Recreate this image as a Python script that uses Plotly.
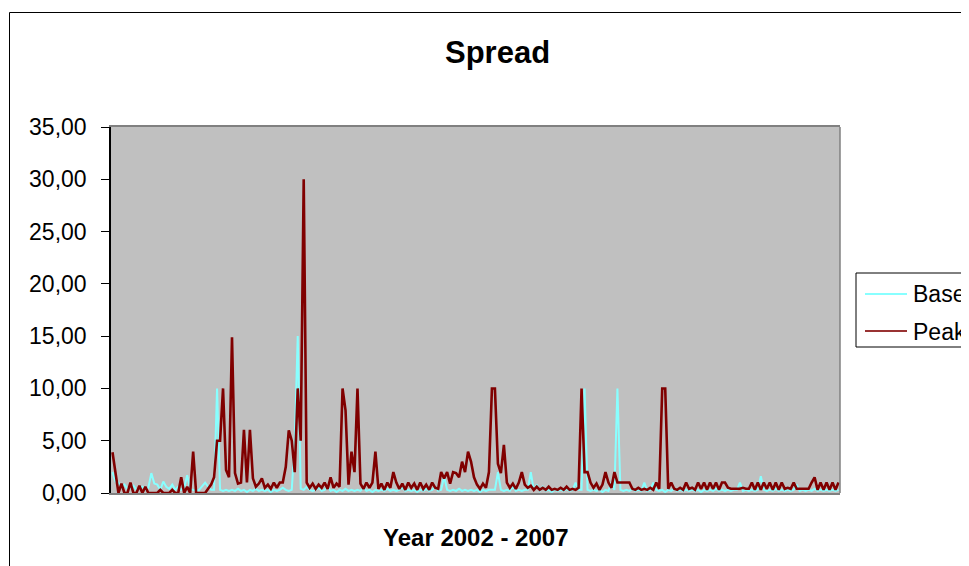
import plotly.graph_objects as go

# ---- data (one value every ~3 px, 2002-2007) ----
peak = [
    3.9, 2.0, 0.0, 0.9, 0.0, 0.0, 1.0, 0.0, 0.0, 0.7,
    0.0, 0.6, 0.0, 0.0, 0.0, 0.0, 0.3, 0.0, 0.0, 0.0,
    0.3, 0.0, 0.0, 1.5, 0.0, 0.6, 0.0, 3.95, 0.0, 0.0,
    0.0, 0.0, 0.4, 0.8, 1.5, 5.0, 5.0, 10.0, 2.2, 1.5,
    14.9, 1.9, 0.9, 1.0, 6.05, 1.0, 6.05, 1.4, 0.6, 0.9,
    1.4, 0.5, 0.8, 0.4, 1.0, 0.5, 1.0, 1.0, 2.5, 6.0,
    5.0, 2.0, 10.0, 5.0, 30.0, 1.0, 0.5, 0.9, 0.4, 0.8,
    0.5, 1.0, 0.4, 1.5, 0.5, 0.9, 0.6, 10.0, 7.9, 0.8,
    3.95, 2.0, 10.0, 0.9, 0.4, 1.0, 0.5, 1.0, 3.95, 0.4,
    0.9, 0.3, 1.0, 0.5, 2.0, 1.0, 0.4, 0.9, 0.3, 1.0,
    0.5, 0.9, 0.3, 1.0, 0.4, 0.8, 0.3, 1.0, 0.5, 0.4,
    2.0, 1.4, 2.0, 0.9, 2.0, 1.9, 1.5, 3.0, 2.0, 3.95,
    3.0, 1.5, 0.8, 0.4, 0.9, 0.5, 2.0, 10.0, 10.0, 2.8,
    1.9, 4.6, 1.0, 0.5, 0.9, 0.4, 1.0, 2.0, 0.8, 0.5,
    0.7, 0.3, 0.6, 0.3, 0.5, 0.3, 0.6, 0.3, 0.4, 0.3,
    0.5, 0.3, 0.6, 0.3, 0.4, 0.3, 0.5, 10.0, 2.0, 2.0,
    1.0, 0.5, 0.9, 0.3, 0.8, 2.0, 1.0, 0.5, 2.0, 1.0,
    1.0, 1.0, 1.0, 1.0, 0.4, 0.3, 0.5, 0.3, 0.4, 0.3,
    0.5, 0.3, 1.0, 0.4, 10.0, 10.0, 0.4, 1.0, 0.4, 0.3,
    0.5, 0.3, 1.0, 0.4, 0.5, 0.3, 1.0, 0.4, 1.0, 0.3,
    1.0, 0.4, 1.0, 0.3, 1.0, 1.0, 0.5, 0.4, 0.4, 0.4,
    0.4, 0.5, 0.4, 0.4, 1.0, 0.3, 1.0, 0.3, 1.0, 0.4,
    1.0, 0.3, 1.0, 0.3, 1.0, 0.4, 0.5, 0.4, 1.0, 0.4,
    0.4, 0.4, 0.4, 0.4, 1.0, 1.5, 0.3, 1.0, 0.3, 1.0,
    0.3, 1.0, 0.3, 1.0,
]

base = [
    2.0, 1.1, 1.0, 0.5, 0.8, 0.4, 0.5, 0.7, 0.3, 0.5,
    0.6, 0.3, 0.5, 1.9, 0.9, 0.8, 0.3, 1.1, 0.6, 0.4,
    0.8, 0.3, 0.6, 0.3, 0.5, 1.7, 0.4, 0.3, 0.2, 0.3,
    0.6, 1.0, 0.6, 0.3, 0.3, 10.0, 0.3, 0.2, 0.3, 0.2,
    0.3, 0.2, 0.4, 0.2, 0.3, 0.1, 0.3, 0.2, 0.4, 0.2,
    0.3, 0.2, 0.3, 0.1, 0.3, 0.2, 0.3, 0.5, 0.3, 0.2,
    0.3, 5.0, 15.0, 0.4, 0.3, 0.6, 0.3, 0.2, 0.3, 0.5,
    0.2, 0.3, 0.6, 0.2, 0.3, 0.1, 0.3, 0.2, 0.4, 0.2,
    0.3, 0.2, 0.3, 0.2, 0.5, 0.2, 0.3, 0.1, 0.3, 0.2,
    0.3, 0.2, 0.4, 0.2, 0.3, 0.2, 0.3, 0.5, 0.2, 0.3,
    0.2, 0.3, 0.1, 0.3, 0.2, 0.4, 0.2, 0.3, 0.6, 0.2,
    0.3, 1.6, 0.3, 0.2, 0.3, 0.2, 0.4, 0.2, 0.3, 0.2,
    0.3, 0.2, 0.3, 0.1, 0.3, 0.2, 0.3, 0.3, 0.3, 2.0,
    0.3, 0.2, 0.3, 0.2, 0.6, 0.2, 0.3, 0.2, 0.3, 0.3,
    2.0, 0.3, 0.8, 0.2, 0.6, 0.2, 0.3, 0.1, 0.3, 0.2,
    0.3, 0.2, 0.4, 0.2, 0.3, 1.0, 0.3, 0.3, 10.0, 0.3,
    0.2, 0.3, 0.2, 0.3, 0.1, 0.3, 0.2, 1.0, 0.3, 10.0,
    0.3, 0.2, 0.3, 0.2, 0.4, 0.2, 0.3, 0.2, 1.0, 0.2,
    0.3, 1.0, 0.3, 0.2, 0.3, 0.1, 0.3, 0.2, 0.4, 0.2,
    0.3, 0.2, 0.3, 0.2, 0.3, 0.2, 0.3, 0.1, 0.3, 0.2,
    0.3, 0.2, 0.4, 0.2, 0.3, 0.2, 0.3, 0.2, 0.3, 0.3,
    1.0, 0.2, 0.3, 0.2, 0.3, 0.2, 0.3, 1.6, 0.3, 0.2,
    0.3, 0.2, 0.4, 0.2, 0.3, 0.2, 0.3, 0.2, 0.3, 0.8,
    0.2, 0.3, 0.2, 0.3, 0.2, 0.4, 0.2, 0.3, 0.2, 0.3,
    0.2, 0.3, 0.2, 0.3,
]

series_names = ["Base", "Peak"]
series_colors = ["#88FFFF", "#800000"]
title_text = "Spread"
x_title = "Year 2002 - 2007"
y_ticks = [0, 5, 10, 15, 20, 25, 30, 35]

x = list(range(len(peak)))

# ---- geometry ----
# The page body has an 8 px margin, so the figure is drawn 8 px smaller
# and all reference (window) pixel positions are shifted by 8 px.
OFF = 8
W, H = 969 - OFF, 566 - OFF
# plot area in window pixels (from the reference)
L, R, T, B = 111, 840, 127, 493
pw, ph = R - L, B - T


def px(xp):
    return (xp - L) / pw


def py(yp):
    return (B - yp) / ph


FONT = "Liberation Sans, Arial, sans-serif"

fig = go.Figure()
fig.add_trace(go.Scatter(x=x, y=base, mode="lines", name=series_names[0],
                         line=dict(color=series_colors[0], width=2),
                         showlegend=False))
fig.add_trace(go.Scatter(x=x, y=peak, mode="lines", name=series_names[1],
                         line=dict(color=series_colors[1], width=2.6),
                         showlegend=False))

shapes = [
    # outer chart frame (extends beyond the window on the right / bottom)
    dict(type="rect", xref="paper", yref="paper",
         x0=px(9.5), x1=px(1100), y0=py(700), y1=py(12.5),
         line=dict(color="black", width=1), layer="above"),
    # right border of plot area
    dict(type="line", xref="paper", yref="paper", x0=1, x1=1, y0=0, y1=1,
         line=dict(color="#808080", width=1.5), layer="above"),
    # legend box
    dict(type="rect", xref="paper", yref="paper",
         x0=px(856), x1=px(1100), y0=py(347), y1=py(273),
         line=dict(color="black", width=1), fillcolor="white", layer="above"),
    dict(type="line", xref="paper", yref="paper",
         x0=px(865), x1=px(907), y0=py(294), y1=py(294),
         line=dict(color=series_colors[0], width=2), layer="above"),
    dict(type="line", xref="paper", yref="paper",
         x0=px(865), x1=px(907), y0=py(331), y1=py(331),
         line=dict(color="#993333", width=2), layer="above"),
]

annotations = [
    dict(text="<b>%s</b>" % title_text, xref="paper", yref="paper",
         x=px(497.5), y=py(52), xanchor="center", yanchor="middle",
         showarrow=False, font=dict(family=FONT, size=31, color="black")),
    dict(text="<b>%s</b>" % x_title, xref="paper", yref="paper",
         x=px(476.5), y=py(537), xanchor="center", yanchor="middle",
         showarrow=False, font=dict(family=FONT, size=24, color="black")),
    dict(text=series_names[0], xref="paper", yref="paper",
         x=px(911), y=py(294), xanchor="left", yanchor="middle",
         showarrow=False, font=dict(family=FONT, size=23, color="black")),
    dict(text=series_names[1], xref="paper", yref="paper",
         x=px(911), y=py(332), xanchor="left", yanchor="middle",
         showarrow=False, font=dict(family=FONT, size=23, color="black")),
]

fig.update_layout(
    width=W, height=H,
    margin=dict(l=L - OFF, r=W - (R - OFF), t=T - OFF, b=H - (B - OFF), pad=0),
    paper_bgcolor="white",
    plot_bgcolor="#C0C0C0",
    separators=",.",
    showlegend=False,
    shapes=shapes,
    annotations=annotations,
    font=dict(family=FONT, color="black"),
)
fig.update_xaxes(range=[-0.5, len(peak) - 0.5], showticklabels=False,
                 ticks="", showgrid=False, zeroline=False,
                 showline=True, linecolor="#808080", linewidth=1.5,
                 mirror=True, fixedrange=True)
fig.update_yaxes(range=[0, 35], tickvals=y_ticks, tickformat=".2f",
                 ticks="outside", ticklen=8, tickcolor="black", tickwidth=1,
                 showgrid=False, zeroline=False, showline=True,
                 linecolor="black", linewidth=1.5,
                 tickfont=dict(family=FONT, size=23, color="black"),
                 ticklabelstandoff=10, fixedrange=True)

fig.write_html("out.html", config={"displayModeBar": False})
